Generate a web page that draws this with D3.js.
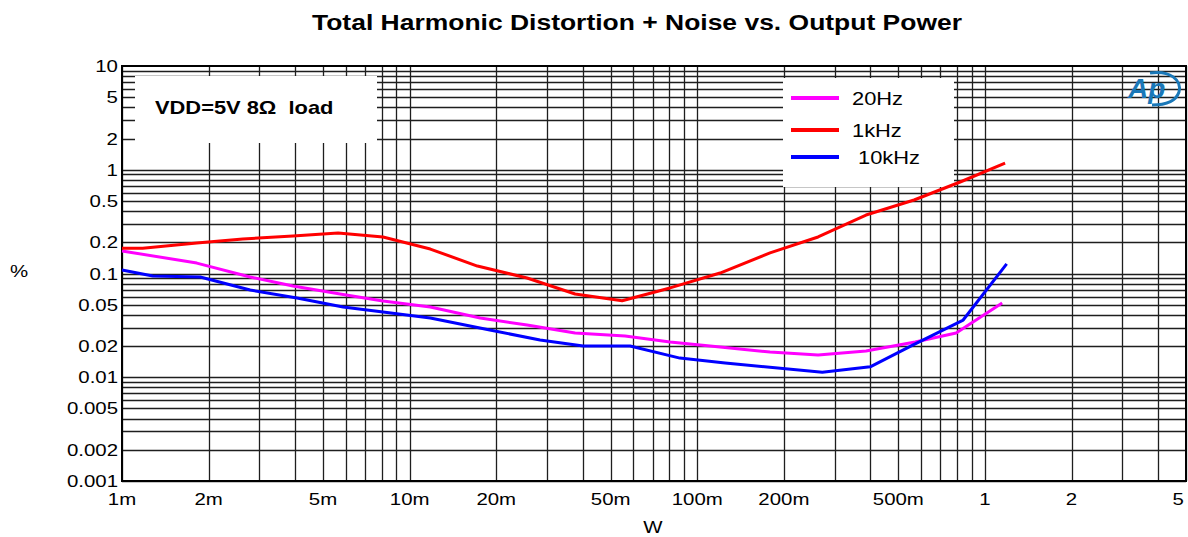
<!DOCTYPE html>
<html>
<head>
	<script src="https://d3js.org/d3.v7.min.js"></script>
	<title>THD+N vs Output Power</title>
	<style type="text/css">
		body { margin: 0; background: #fff; }
		text { font-family: "Liberation Sans", Arial, sans-serif; }
		.curve { fill: none; stroke-width: 3px; stroke-linejoin: round; }
	</style>
</head>
<body>
<div id="chart"></div>
<script type="text/javascript">

	// output power (W) and THD+N (%)
	var power20 = [0.001, 0.00182, 0.00279, 0.00393, 0.00573, 0.00808, 0.0118, 0.0176, 0.0256, 0.0376, 0.0561, 0.0804, 0.120, 0.179, 0.263, 0.386, 0.572, 0.794, 1.148];
	var thd20   = [0.165, 0.126, 0.0925, 0.0758, 0.0634, 0.0543, 0.0475, 0.0372, 0.0319, 0.0267, 0.0250, 0.0219, 0.0196, 0.0175, 0.0164, 0.0179, 0.0219, 0.0267, 0.0520];

	var power1k = [0.001, 0.00118, 0.00182, 0.00263, 0.00393, 0.00564, 0.00808, 0.0118, 0.0172, 0.0256, 0.0376, 0.0548, 0.0804, 0.120, 0.179, 0.263, 0.386, 0.567, 0.820, 1.175];
	var thd1k   = [0.175, 0.175, 0.197, 0.215, 0.230, 0.246, 0.225, 0.172, 0.118, 0.0905, 0.0634, 0.0547, 0.0726, 0.101, 0.158, 0.225, 0.366, 0.511, 0.762, 1.16];

	var power10k = [0.001, 0.00128, 0.00187, 0.00279, 0.00406, 0.00587, 0.00808, 0.0118, 0.019, 0.0284, 0.0401, 0.0584, 0.087, 0.125, 0.272, 0.399, 0.563, 0.840, 1.19];
	var thd10k   = [0.108, 0.0946, 0.0925, 0.0693, 0.0581, 0.0475, 0.0425, 0.0372, 0.0285, 0.0229, 0.0200, 0.0200, 0.0153, 0.0137, 0.0112, 0.0126, 0.0205, 0.0356, 0.124];

	var xTicks = [0.001, 0.002, 0.005, 0.01, 0.02, 0.05, 0.1, 0.2, 0.5, 1, 2, 5];
	var xTickLabels = ["1m", "2m", "5m", "10m", "20m", "50m", "100m", "200m", "500m", "1", "2", "5"];
	var yTicks = [10, 5, 2, 1, 0.5, 0.2, 0.1, 0.05, 0.02, 0.01, 0.005, 0.002, 0.001];
	var yTickLabels = ["10", "5", "2", "1", "0.5", "0.2", "0.1", "0.05", "0.02", "0.01", "0.005", "0.002", "0.001"];

	var seriesNames = ["20Hz", "1kHz", " 10kHz"];
	var seriesColors = ["#ff00ff", "#ff0000", "#0000ff"];

	var width = 1188, height = 537;
	var plotLeft = 122, plotRight = 1186, plotTop = 66, plotBottom = 481;
	var stretch = 1.2; // reference text is a bit wider than the font

	var svg = d3.select("#chart")
	  .append("svg")
	  .attr("width", width)
	  .attr("height", height)
	  .style("background-color", "#fff");

	function widen(sel, k) {
		sel.each(function() {
			var w = this.getComputedTextLength();
			d3.select(this).attr("textLength", w * (k || stretch)).attr("lengthAdjust", "spacingAndGlyphs");
		});
	}

	var xscale = d3.scaleLog().domain([0.001, 5]).range([plotLeft, plotRight]);
	var yscale = d3.scaleLog().domain([0.001, 10]).range([plotBottom, plotTop]);

	// minor grid: every integer multiple inside each decade
	var xGrid = [], yGrid = [];
	[0.001, 0.01, 0.1, 1].forEach(function(d) {
		for (var k = 1; k < 10; k++) { if (d * k <= 5) xGrid.push(d * k); }
	});
	[0.001, 0.01, 0.1, 1].forEach(function(d) {
		for (var k = 1; k < 10; k++) yGrid.push(d * k);
	});

	var grid = svg.append("g");
	grid.selectAll(".vg").data(xGrid).enter().append("line")
	  .attr("x1", function(d){ return Math.round(xscale(d)) + 0.5 })
	  .attr("x2", function(d){ return Math.round(xscale(d)) + 0.5 })
	  .attr("y1", plotTop).attr("y2", plotBottom)
	  .attr("stroke", "#1e1e1e").attr("stroke-width", 1.3);
	grid.selectAll(".hg").data(yGrid).enter().append("line")
	  .attr("y1", function(d){ return Math.round(yscale(d)) + 0.5 })
	  .attr("y2", function(d){ return Math.round(yscale(d)) + 0.5 })
	  .attr("x1", plotLeft).attr("x2", plotRight)
	  .attr("stroke", "#1e1e1e").attr("stroke-width", 1.3);

	// white boxes for the note and legend
	svg.append("rect").attr("x", 135).attr("y", 76).attr("width", 242).attr("height", 67).attr("fill", "#fff");
	svg.append("rect").attr("x", 783).attr("y", 78).attr("width", 171).attr("height", 109).attr("fill", "#fff");

	// plot frame
	svg.append("rect")
	  .attr("x", plotLeft).attr("y", plotTop)
	  .attr("width", plotRight - plotLeft).attr("height", plotBottom - plotTop)
	  .attr("fill", "none").attr("stroke", "#000").attr("stroke-width", 2);

	// tick labels
	svg.append("g").selectAll("text").data(yTicks).enter().append("text")
	  .attr("x", 118)
	  .attr("y", function(d){ return yscale(d) + 6 })
	  .attr("text-anchor", "end")
	  .attr("font-size", 17)
	  .text(function(d, i){ return yTickLabels[i] })
	  .call(widen);

	svg.append("g").selectAll("text").data(xTicks).enter().append("text")
	  .attr("x", function(d){ return xscale(d) })
	  .attr("y", 505)
	  .attr("text-anchor", function(d){ return d === 5 ? "end" : "middle" })
	  .attr("dx", function(d){ return d === 5 ? -2 : 0 })
	  .attr("font-size", 17)
	  .text(function(d, i){ return xTickLabels[i] })
	  .call(widen);

	svg.append("text").attr("x", 653).attr("y", 533).attr("text-anchor", "middle").attr("font-size", 17).text("W").call(widen);
	svg.append("text").attr("x", 19).attr("y", 277).attr("text-anchor", "middle").attr("font-size", 17).text("%").call(widen);

	svg.append("text")
	  .attr("x", 637).attr("y", 30)
	  .attr("text-anchor", "middle")
	  .attr("font-size", 22).attr("font-weight", "bold")
	  .text("Total Harmonic Distortion + Noise vs. Output Power")
	  .attr("textLength", 650).attr("lengthAdjust", "spacingAndGlyphs");

	svg.append("text")
	  .attr("x", 155).attr("y", 114)
	  .attr("font-size", 19).attr("font-weight", "bold")
	  .style("white-space", "pre")
	  .text("VDD=5V 8\u03A9  load")
	  .call(widen, 1.15);

	// curves
	var line = d3.line()
	  .x(function(d){ return xscale(d[0]) })
	  .y(function(d){ return yscale(d[1]) });

	var series = [
		d3.zip(power20, thd20),
		d3.zip(power1k, thd1k),
		d3.zip(power10k, thd10k)
	];

	svg.append("g").selectAll("path").data(series).enter().append("path")
	  .attr("class", "curve")
	  .attr("d", line)
	  .attr("stroke", function(d, i){ return seriesColors[i] });

	// legend
	var legendY = [98, 130, 157];
	var legend = svg.append("g");
	seriesNames.forEach(function(name, i) {
		legend.append("line")
		  .attr("x1", 791).attr("x2", 839)
		  .attr("y1", legendY[i]).attr("y2", legendY[i])
		  .attr("stroke", seriesColors[i]).attr("stroke-width", 4);
		legend.append("text")
		  .attr("x", 852).attr("y", legendY[i] + 7)
		  .attr("font-size", 19)
		  .style("white-space", "pre")
		  .text(name)
		  .call(widen, 1.15);
	});

	// Ap logo
	var logo = svg.append("g").attr("transform", "translate(1128,70)");
	logo.append("path")
	  .attr("d", "M22,3 C42,0 54,10 51,22 C48,31 38,35 24,35")
	  .attr("fill", "none").attr("stroke", "#1a78b8").attr("stroke-width", 3);
	logo.append("text")
	  .attr("x", 0).attr("y", 28)
	  .attr("font-size", 28).attr("font-weight", "bold").attr("font-style", "italic")
	  .attr("fill", "#1a78b8")
	  .text("Ap");

</script>
</body>
</html>
